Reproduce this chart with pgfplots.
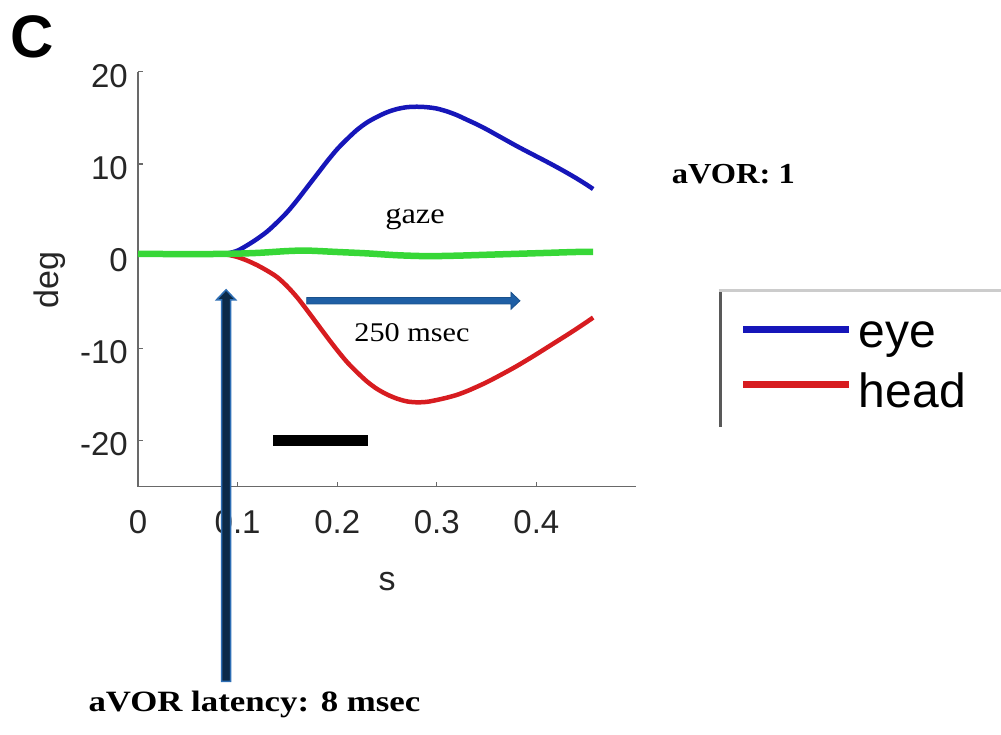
\documentclass[border=0pt]{standalone}
\usepackage{pgfplots}
\pgfplotsset{compat=1.18}
\usepackage{fontspec}
\setmainfont{Liberation Serif}
\newfontfamily\helv{Liberation Sans}
\newfontfamily\gara[FakeStretch=1.12]{Liberation Serif}
\newfontfamily\garaw[FakeStretch=1.18]{Liberation Serif}
\definecolor{eyeblue}{RGB}{22,22,185}
\definecolor{headred}{RGB}{215,28,32}
\definecolor{gazegreen}{RGB}{55,215,55}
\definecolor{arrowblue}{RGB}{31,95,165}
\definecolor{arrowedge}{RGB}{46,110,180}
\definecolor{navy}{RGB}{12,42,72}
\definecolor{axgray}{RGB}{105,105,105}

\pgfplotstableread{
x y
0 0.25
0.04 0.25
0.08 0.25
0.09 0.3
0.10 0.6
0.11 1.2
0.12 1.9
0.13 2.7
0.14 3.7
0.15 4.8
0.16 6.1
0.17 7.5
0.18 8.9
0.19 10.3
0.20 11.6
0.21 12.7
0.22 13.7
0.23 14.5
0.24 15.1
0.25 15.6
0.26 15.95
0.27 16.15
0.28 16.2
0.29 16.15
0.30 16.0
0.31 15.7
0.32 15.3
0.33 14.8
0.34 14.3
0.35 13.75
0.36 13.15
0.37 12.55
0.38 11.95
0.39 11.38
0.40 10.82
0.41 10.26
0.42 9.68
0.43 9.08
0.44 8.45
0.45 7.78
0.457 7.28
}\eyedata
\pgfplotstableread{
x y
0 0.25
0.04 0.25
0.08 0.22
0.09 0.15
0.10 -0.1
0.11 -0.5
0.12 -1.0
0.13 -1.6
0.14 -2.3
0.15 -3.3
0.16 -4.5
0.17 -5.9
0.18 -7.35
0.19 -8.8
0.20 -10.2
0.21 -11.5
0.22 -12.6
0.23 -13.6
0.24 -14.4
0.25 -15.0
0.26 -15.45
0.27 -15.75
0.28 -15.85
0.29 -15.8
0.30 -15.6
0.31 -15.35
0.32 -15.05
0.33 -14.65
0.34 -14.18
0.35 -13.68
0.36 -13.12
0.37 -12.54
0.38 -11.94
0.39 -11.3
0.40 -10.64
0.41 -9.96
0.42 -9.28
0.43 -8.6
0.44 -7.9
0.45 -7.18
0.457 -6.66
}\headdata
\pgfplotstableread{
x y
0 0.25
0.05 0.22
0.09 0.25
0.12 0.35
0.15 0.55
0.17 0.6
0.2 0.45
0.23 0.3
0.26 0.1
0.29 0.0
0.32 0.05
0.35 0.15
0.38 0.25
0.41 0.35
0.44 0.45
0.457 0.45
}\gazedata

\begin{document}
\begin{tikzpicture}[x=1pt,y=1pt]
\path[use as bounding box] (0,0) rectangle (1001,735);
\begin{axis}[
  at={(138pt,248.3pt)}, anchor=south west,
  width=498pt, height=415pt, scale only axis,
  xmin=0, xmax=0.5, ymin=-25, ymax=20,
  axis lines*=left,
  axis line style={axgray, line width=1.5pt},
  tick style={axgray, line width=1.2pt},
  tick align=inside, major tick length=5pt,
  xtick={0,0.1,0.2,0.3,0.4}, xticklabels={0,0.1,0.2,0.3,0.4},
  ytick={-20,-10,0,10,20}, yticklabels={-20,-10,0,10,20},
  tick label style={font=\helv\fontsize{33}{36}\selectfont, text=black!85, inner sep=0pt},
  xticklabel style={anchor=north, yshift=-24pt},
  yticklabel style={anchor=east, xshift=-10pt, yshift=-4pt},
  xlabel={s}, ylabel={deg},
  label style={font=\helv\fontsize{34}{38}\selectfont, text=black!85},
  xlabel style={at={(axis description cs:0.5,-0.229)}, anchor=center},
  ylabel style={at={(axis description cs:-0.1767,0.4988)}, anchor=center},
  clip=false,
  legend style={at={(axis description cs:1.2088,0.398)}, anchor=north west,
    draw=none, fill=none, inner sep=0pt, outer sep=0pt,
    font=\helv\fontsize{48}{52}\selectfont, row sep=24pt, column sep=6pt,
    nodes={inner sep=0pt}},
  legend cell align=left,
  legend image code/.code={\draw[#1, line width=7pt] (0pt,6pt) -- (106pt,6pt);},
]
\addplot[eyeblue, line width=4.5pt, smooth] table {\eyedata};
\addlegendentry{eye}
\addplot[headred, line width=4.5pt, smooth] table {\headdata};
\addlegendentry{head}
\addplot[gazegreen, line width=6.5pt, smooth, forget plot] table {\gazedata};
\addplot[black, line width=11pt, forget plot] coordinates {(0.1359,-20) (0.2312,-20)};
\coordinate (vb) at (axis cs:0.0884,-46.1);
\coordinate (vt) at (axis cs:0.0884,-3.65);
\coordinate (hl) at (axis cs:0.1694,-4.84);
\coordinate (hr) at (axis cs:0.3835,-4.84);
\end{axis}
% vertical arrow
\draw[arrowedge, line width=1.5pt, fill=navy]
  ([xshift=-4.5pt]vb) -- ([xshift=-4.5pt,yshift=-10pt]vt) -- ([xshift=-9.5pt,yshift=-10pt]vt)
  -- (vt) -- ([xshift=9.5pt,yshift=-10pt]vt) -- ([xshift=4.5pt,yshift=-10pt]vt)
  -- ([xshift=4.5pt]vb) -- cycle;
% horizontal arrow
\draw[arrowblue!85!black, line width=0.8pt, fill=arrowblue]
  ([yshift=3.2pt]hl) -- ([xshift=-9pt,yshift=3.2pt]hr) -- ([xshift=-9pt,yshift=8.5pt]hr)
  -- (hr) -- ([xshift=-9pt,yshift=-8.5pt]hr) -- ([xshift=-9pt,yshift=-3.2pt]hr)
  -- ([yshift=-3.2pt]hl) -- cycle;
% legend frame (cropped)
\draw[black!65, line width=3pt] (720,443.3) -- (720,308.3);
\draw[black!20, line width=3pt] (718.5,444.3) -- (1010,444.3);
% texts
\node[anchor=base west, inner sep=0pt, font=\helv\bfseries\fontsize{60}{64}\selectfont] at (10,677) {C};
\node[anchor=base, inner sep=0pt, font=\gara\fontsize{29}{32}\selectfont] at (415,511.7) {gaze};
\node[anchor=base, inner sep=0pt, font=\gara\fontsize{27}{30}\selectfont] at (412,393.3) {250 msec};
\node[anchor=base west, inner sep=0pt, font=\gara\bfseries\fontsize{29}{31}\selectfont] at (671.7,551.7) {aVOR: 1};
\node[anchor=base west, inner sep=0pt, font=\garaw\bfseries\fontsize{29.5}{31}\selectfont] at (88.3,23.3) {aVOR latency: 8 msec};
\end{tikzpicture}
\end{document}
